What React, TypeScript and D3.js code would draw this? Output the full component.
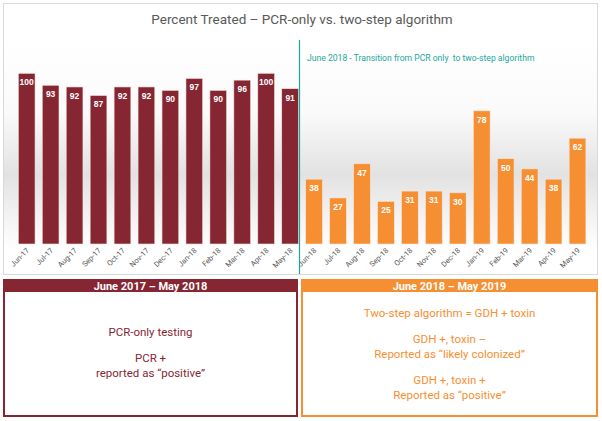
import * as d3 from "d3";
import { useEffect, useRef } from "react";

const pcrMonths = ["Jun-17", "Jul-17", "Aug-17", "Sep-17", "Oct-17", "Nov-17", "Dec-17", "Jan-18", "Feb-18", "Mar-18", "Apr-18", "May-18"];
const pcrValues = [100, 93, 92, 87, 92, 92, 90, 97, 90, 96, 100, 91];
const twoStepMonths = ["Jun-18", "Jul-18", "Aug-18", "Sep-18", "Oct-18", "Nov-18", "Dec-18", "Jan-19", "Feb-19", "Mar-19", "Apr-19", "May-19"];
const twoStepValues = [38, 27, 47, 25, 31, 31, 30, 78, 50, 44, 38, 62];

const title = "Percent Treated \u2013 PCR-only vs. two-step algorithm";
const transitionNote = "June 2018 - Transition from PCR only  to two-step algorithm";
const leftHeader = "June 2017 \u2013 May 2018";
const rightHeader = "June 2018 \u2013 May 2019";
const leftLines = [["PCR-only testing"], ["PCR +", "reported as \u201Cpositive\u201D"]];
const rightLines = [
  ["Two-step algorithm = GDH + toxin"],
  ["GDH +, toxin \u2013", "Reported as \u201Clikely colonized\u201D"],
  ["GDH +, toxin +", "Reported as \u201Cpositive\u201D"],
];

const FONT = "Roboto, 'Liberation Sans', sans-serif";

const App = () => {
  const ref = useRef<SVGSVGElement>(null);

  useEffect(() => {
    const width = 602;
    const height = 421;
    const red = "#862633";
    const orange = "#F58F31";
    const teal = "#1AA89A";

    const svg = d3.select(ref.current);
    svg.selectAll("*").remove();
    svg.attr("width", width).attr("height", height);

    const data = [
      ...pcrMonths.map((m, i) => ({ month: m, value: pcrValues[i], color: red })),
      ...twoStepMonths.map((m, i) => ({ month: m, value: twoStepValues[i], color: orange })),
    ];

    const x = d3
      .scaleBand()
      .domain(data.map((d) => d.month))
      .range([14.7, 589.5])
      .paddingInner(0.3)
      .paddingOuter(0.15);
    const y = d3.scaleLinear().domain([0, 100]).range([244, 73.3]);

    svg.append("rect").attr("width", width).attr("height", height).attr("fill", "#fff");

    const defs = svg.append("defs");
    const grad = defs
      .append("linearGradient")
      .attr("id", "bg")
      .attr("x1", 0)
      .attr("y1", 0)
      .attr("x2", 0)
      .attr("y2", 1);
    grad.append("stop").attr("offset", "0%").attr("stop-color", "#ffffff");
    grad.append("stop").attr("offset", "35%").attr("stop-color", "#fafafa");
    grad.append("stop").attr("offset", "64%").attr("stop-color", "#e2e2e2");
    grad.append("stop").attr("offset", "82%").attr("stop-color", "#f1f1f1");
    grad.append("stop").attr("offset", "100%").attr("stop-color", "#ffffff");

    // chart frame + shading
    svg
      .append("rect")
      .attr("x", 3.5)
      .attr("y", 3.5)
      .attr("width", 594)
      .attr("height", 271)
      .attr("fill", "#fff")
      .attr("stroke", "#d9d9d9");
    svg
      .append("rect")
      .attr("x", 4)
      .attr("y", 40)
      .attr("width", 593)
      .attr("height", 210)
      .attr("fill", "url(#bg)");

    svg
      .append("text")
      .attr("x", 302)
      .attr("y", 24)
      .attr("text-anchor", "middle")
      .attr("font-family", FONT)
      .attr("font-size", 13.5)
      .attr("fill", "#595959")
      .text(title);

    // bars
    svg
      .append("g")
      .selectAll("rect")
      .data(data)
      .join("rect")
      .attr("x", (d) => x(d.month)!)
      .attr("y", (d) => y(d.value))
      .attr("width", x.bandwidth())
      .attr("height", (d) => y(0) - y(d.value))
      .attr("fill", (d) => d.color)
      .attr("stroke", "#f6e6e0")
      .attr("stroke-width", 0.6);

    svg
      .append("g")
      .selectAll("text")
      .data(data)
      .join("text")
      .attr("x", (d) => x(d.month)! + x.bandwidth() / 2)
      .attr("y", (d) => y(d.value) + 12)
      .attr("text-anchor", "middle")
      .attr("font-family", "'Liberation Sans', Arial, sans-serif")
      .attr("font-weight", "bold")
      .attr("font-size", 8.5)
      .attr("fill", "#fff")
      .text((d) => d.value);

    // month labels
    svg
      .append("g")
      .selectAll("text")
      .data(data)
      .join("text")
      .attr("transform", (d) => `translate(${x(d.month)! + x.bandwidth() / 2 + 3},${251}) rotate(-45)`)
      .attr("text-anchor", "end")
      .attr("font-family", FONT)
      .attr("font-size", 7.5)
      .attr("fill", "#595959")
      .text((d) => d.month);

    // transition marker
    const divX = x("May-18")! + x.bandwidth() + 1;
    svg
      .append("line")
      .attr("x1", divX)
      .attr("x2", divX)
      .attr("y1", 40)
      .attr("y2", 274)
      .attr("stroke", teal)
      .attr("stroke-width", 1.2);
    svg
      .append("text")
      .attr("x", divX + 7.5)
      .attr("y", 61)
      .attr("font-family", FONT)
      .attr("font-size", 8.6)
      .attr("fill", teal)
      .style("white-space", "pre")
      .text(transitionNote);

    // bottom boxes
    const boxes = [
      { x0: 3, x1: 298, color: red, header: leftHeader, lines: leftLines, startY: 336 },
      { x0: 301, x1: 598, color: orange, header: rightHeader, lines: rightLines, startY: 317 },
    ];
    boxes.forEach((b) => {
      const g = svg.append("g");
      g.append("rect")
        .attr("x", b.x0 + 1)
        .attr("y", 280)
        .attr("width", b.x1 - b.x0 - 2)
        .attr("height", 136)
        .attr("fill", "#fff")
        .attr("stroke", b.color)
        .attr("stroke-width", 2);
      g.append("rect")
        .attr("x", b.x0)
        .attr("y", 279)
        .attr("width", b.x1 - b.x0)
        .attr("height", 13)
        .attr("fill", b.color);
      const cx = (b.x0 + b.x1) / 2;
      g.append("text")
        .attr("x", cx)
        .attr("y", 289.5)
        .attr("text-anchor", "middle")
        .attr("font-family", FONT)
        .attr("font-weight", "bold")
        .attr("font-size", 11)
        .attr("fill", "#fff")
        .text(b.header);
      let yy = b.startY;
      b.lines.forEach((grp) => {
        grp.forEach((line) => {
          g.append("text")
            .attr("x", cx)
            .attr("y", yy)
            .attr("text-anchor", "middle")
            .attr("font-family", FONT)
            .attr("font-size", 11.5)
            .attr("fill", b.color)
            .text(line);
          yy += 15;
        });
        yy += 11;
      });
    });
  }, []);

  return <svg ref={ref} style={{ position: "absolute", left: 0, top: 0, display: "block" }} />;
};

export default App;
